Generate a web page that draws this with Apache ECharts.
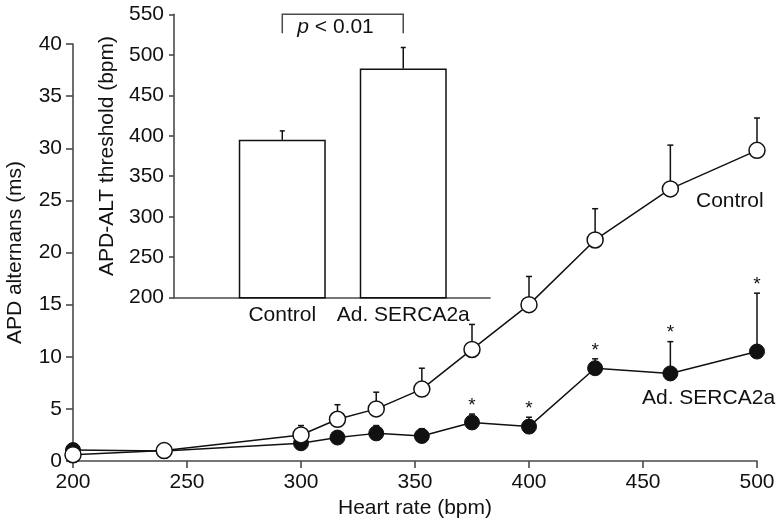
<!DOCTYPE html>
<html>
<head>
<meta charset="utf-8">
<script src="https://cdn.jsdelivr.net/npm/echarts@6/dist/echarts.min.js"></script>
<style>
html,body{margin:0;padding:0;background:#fff;}
#chart{width:778px;height:522px;}
</style>
</head>
<body>
<div id="chart"></div>
<script>
// ---- Main chart data ----
const heartRate   = [200, 240, 300, 316, 333, 353, 375, 400, 429, 462, 500];
const controlMean = [0.6, 1.0, 2.5, 4.0, 5.0, 6.9, 10.7, 15.0, 21.2, 26.1, 29.8];
const controlErr  = [null, null, 0.9, 1.4, 1.6, 2.0, 2.4, 2.7, 3.0, 4.2, 3.1];
const sercaMean   = [1.05, 0.95, 1.7, 2.25, 2.65, 2.4, 3.7, 3.3, 8.9, 8.4, 10.5];
const sercaErr    = [null, null, null, null, 0.75, 0.7, 0.8, 0.9, 0.9, 3.05, 5.6];
const sercaStar   = [0, 0, 0, 0, 0, 0, 1, 1, 1, 1, 1];
const xTicks = [200, 250, 300, 350, 400, 450, 500];
const yTicks = [0, 5, 10, 15, 20, 25, 30, 35, 40];

// ---- Inset data ----
const insetCategories = ['Control', 'Ad. SERCA2a'];
const insetMean = [395, 483];
const insetErr  = [11, 26];
const insetTicks = [200, 250, 300, 350, 400, 450, 500, 550];
const pText = 'p < 0.01';

const FONT = 'Liberation Sans, Arial, Helvetica, sans-serif';
const FS = 21;
const AX = '#4a4a4a';
const INK = '#111';

const controlPts = heartRate.map((x, i) => [x, controlMean[i]]);
const sercaPts = heartRate.map((x, i) => [x, sercaMean[i]]);
const errData = [];
heartRate.forEach((x, i) => {
  if (controlErr[i] != null) errData.push([x, controlMean[i], controlErr[i], 0]);
  if (sercaErr[i] != null) errData.push([x, sercaMean[i], sercaErr[i], sercaStar[i]]);
});
const insetPos = insetCategories.map((c, i) => i + 1);
const insetBars = insetPos.map((p, i) => [p, insetMean[i]]);
const insetErrData = insetPos.map((p, i) => [p, insetMean[i], insetErr[i], 0]);

function errRender(cap) {
  return function (params, api) {
    const x = api.value(0), y = api.value(1), e = api.value(2), star = api.value(3);
    const p0 = api.coord([x, y]);
    const p1 = api.coord([x, y + e]);
    const children = [
      {type: 'line', shape: {x1: p0[0], y1: p0[1], x2: p1[0], y2: p1[1]}, style: {stroke: INK, lineWidth: 1.5}},
      {type: 'line', shape: {x1: p1[0] - cap, y1: p1[1], x2: p1[0] + cap, y2: p1[1]}, style: {stroke: INK, lineWidth: 1.5}}
    ];
    if (star) {
      children.push({type: 'text', style: {text: '*', x: p1[0], y: p1[1] + 1, align: 'center', verticalAlign: 'bottom', fontSize: 19, fontFamily: FONT, fill: INK}});
    }
    return {type: 'group', children: children};
  };
}

const chart = echarts.init(document.getElementById('chart'), null, {renderer: 'canvas'});
const option = {
  backgroundColor: '#fff',
  animation: false,
  textStyle: {fontFamily: FONT},
  grid: [
    {left: 73, right: 21, top: 44, bottom: 61, containLabel: false, outerBoundsMode: 'none'},
    {left: 174, top: 14.3, width: 316, height: 283.4, containLabel: false, outerBoundsMode: 'none'}
  ],
  xAxis: [
    {
      type: 'value', gridIndex: 0, min: 200, max: 500, interval: 50,
      name: 'Heart rate (bpm)', nameLocation: 'middle', nameGap: 31,
      nameTextStyle: {fontSize: FS, color: INK, fontFamily: FONT},
      axisLine: {lineStyle: {color: AX, width: 1.6}},
      axisTick: {show: true, inside: false, length: 7, lineStyle: {color: AX, width: 1.6}},
      axisLabel: {fontSize: FS, color: INK, margin: 11, fontFamily: FONT},
      splitLine: {show: false}
    },
    {
      type: 'value', gridIndex: 1, min: 0.105, max: 2.717,
      axisLine: {show: true, onZero: false, lineStyle: {color: AX, width: 1.6}},
      axisTick: {show: false},
      axisLabel: {fontSize: FS, color: INK, margin: 7, fontFamily: FONT,
        customValues: insetPos,
        formatter: v => insetCategories[Math.round(v) - 1] || ''},
      splitLine: {show: false}
    }
  ],
  yAxis: [
    {
      type: 'value', gridIndex: 0, min: 0, max: 40, interval: 5,
      name: 'APD alternans (ms)', nameLocation: 'middle', nameGap: 47,
      nameTextStyle: {fontSize: FS, color: INK, fontFamily: FONT},
      axisLine: {show: true, lineStyle: {color: AX, width: 1.6}},
      axisTick: {show: true, inside: false, length: 7, lineStyle: {color: AX, width: 1.6}},
      axisLabel: {fontSize: FS, color: INK, margin: 11, fontFamily: FONT},
      splitLine: {show: false}
    },
    {
      type: 'value', gridIndex: 1, min: 200, max: 550, interval: 50,
      name: 'APD-ALT threshold (bpm)', nameLocation: 'middle', nameGap: 56,
      nameTextStyle: {fontSize: FS, color: INK, fontFamily: FONT},
      axisLine: {show: true, onZero: false, lineStyle: {color: AX, width: 1.6}},
      axisTick: {show: true, inside: false, length: 5, lineStyle: {color: AX, width: 1.6}},
      axisLabel: {fontSize: FS, color: INK, margin: 10, fontFamily: FONT},
      splitLine: {show: false}
    }
  ],
  series: [
    {
      type: 'custom', name: 'errors', xAxisIndex: 0, yAxisIndex: 0, z: 2,
      renderItem: errRender(3), data: errData, clip: false
    },
    {
      type: 'line', name: 'Ad. SERCA2a', xAxisIndex: 0, yAxisIndex: 0, z: 3,
      data: sercaPts, symbol: 'circle', symbolSize: 15,
      lineStyle: {color: INK, width: 1.5},
      itemStyle: {color: INK, borderColor: INK, borderWidth: 1}
    },
    {
      type: 'line', name: 'Control', xAxisIndex: 0, yAxisIndex: 0, z: 4,
      data: controlPts, symbol: 'circle', symbolSize: 16,
      lineStyle: {color: INK, width: 1.5},
      itemStyle: {color: '#fff', borderColor: INK, borderWidth: 1.5}
    },
    {
      type: 'bar', name: 'threshold', xAxisIndex: 1, yAxisIndex: 1, z: 5,
      data: insetBars, barWidth: 87,
      itemStyle: {color: '#fff', borderColor: INK, borderWidth: 1.5}
    },
    {
      type: 'custom', name: 'insetErr', xAxisIndex: 1, yAxisIndex: 1, z: 6,
      renderItem: function (params, api) {
        const x = api.value(0), y = api.value(1), e = api.value(2);
        const p0 = api.coord([x, y]);
        const p1 = api.coord([x, y + e]);
        return {type: 'group', children: [
          {type: 'line', shape: {x1: p0[0], y1: p0[1], x2: p1[0], y2: p1[1]}, style: {stroke: INK, lineWidth: 1.5}},
          {type: 'line', shape: {x1: p1[0] - 2.5, y1: p1[1], x2: p1[0] + 2.5, y2: p1[1]}, style: {stroke: INK, lineWidth: 1.5}}
        ]};
      },
      data: insetErrData
    },
    {
      type: 'custom', name: 'bracket', xAxisIndex: 1, yAxisIndex: 1, z: 6, clip: false,
      renderItem: function (params, api) {
        const a = api.coord([api.value(0), api.value(2)]);
        const b = api.coord([api.value(1), api.value(2)]);
        return {type: 'group', children: [
          {type: 'polyline', shape: {points: [[a[0], a[1] + 19], [a[0], a[1]], [b[0], b[1]], [b[0], b[1] + 19]]},
           style: {stroke: AX, lineWidth: 1.5, fill: null}},
          {type: 'text', style: {
            text: '{i|p} < 0.01', x: a[0] + 15, y: a[1] + 13, align: 'left', verticalAlign: 'middle',
            fontSize: FS, fontFamily: FONT, fill: INK,
            rich: {i: {fontStyle: 'italic', fontSize: FS, fontFamily: FONT, fill: INK}}
          }}
        ]};
      },
      data: [[insetPos[0], insetPos[1], 550]]
    }
  ],
  graphic: [
    {type: 'text', left: 696, top: 191, style: {text: 'Control', fontSize: FS, fontFamily: FONT, fill: INK}},
    {type: 'text', left: 642, top: 388, style: {text: 'Ad. SERCA2a', fontSize: FS, fontFamily: FONT, fill: INK}}
  ]
};
chart.setOption(option);
</script>
</body>
</html>
